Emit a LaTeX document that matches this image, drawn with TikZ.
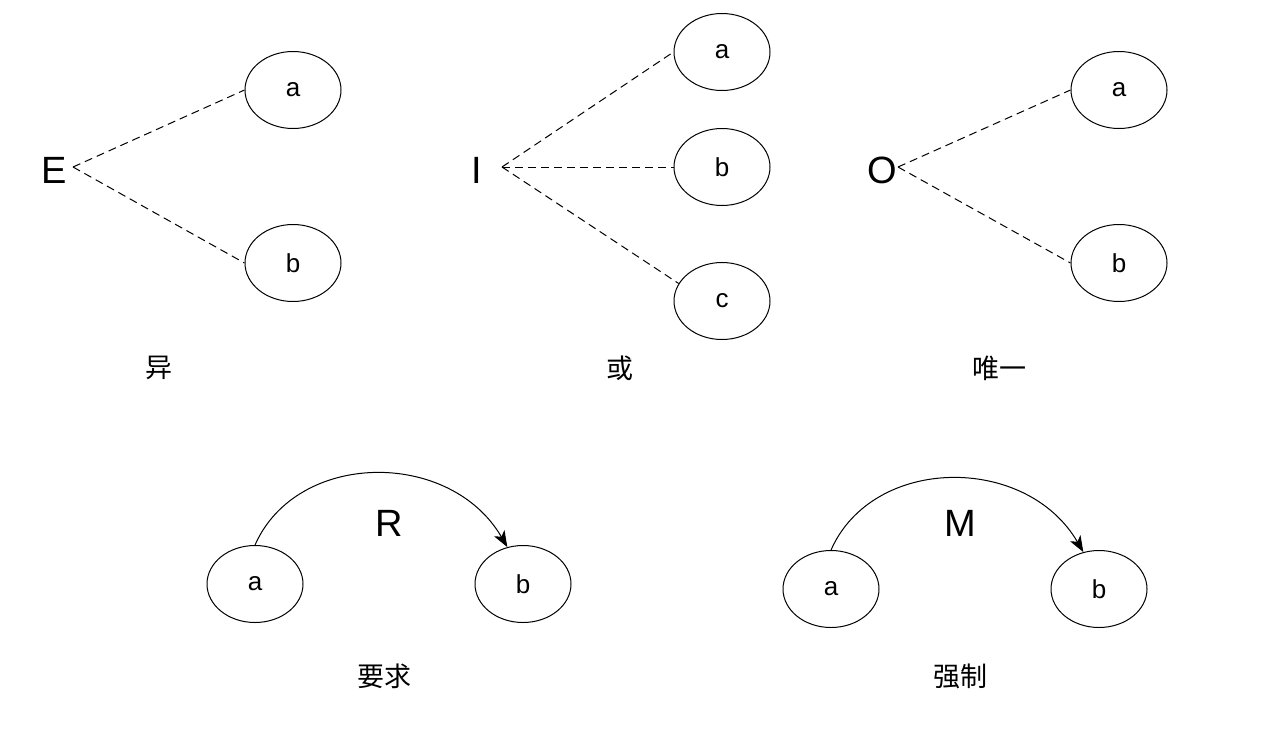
\documentclass[tikz,border=0pt]{standalone}
\usepackage{fontspec}
\setmainfont{Liberation Sans}
\newfontfamily\cjk{Noto Sans CJK SC}
\usetikzlibrary{shapes.geometric,arrows.meta}

\begin{document}
\begin{tikzpicture}[x=1pt, y=-1pt, line width=1pt,
  every node/.style={font=\fontsize{26}{30}\selectfont},
  elli/.style={draw, ellipse, minimum width=96pt, minimum height=77pt, inner sep=0pt},
  big/.style={font=\fontsize{38}{42}\selectfont},
  lbl/.style={font=\cjk\fontsize{27}{31}\selectfont},
  dline/.style={dash pattern=on 8pt off 5pt},
  req/.style={-{Stealth[length=16pt,width=12pt,inset=4pt]}}]
\useasboundingbox (0,0) rectangle (1263,729);
% E
\node[big] (E) at (54,170) {E};
\coordinate (eo) at (73,167);
\node[elli] (ea) at (293,90) {a};
\node[elli] (eb) at (293,263) {b};
\foreach \t in {ea.west,eb.west}
	\draw[dline] (eo) -- (\t);
\node[lbl] (eL) at (159,368) {异};
% I
\node[big] (I) at (477,170) {I};
\coordinate (io) at (502,167);
\node[elli] (ia) at (722,52) {a};
\node[elli] (ib) at (722,167) {b};
\node[elli] (ic) at (722,301) {c};
\foreach \t in {ia.west,ib.west,ic.158}
	\draw[dline] (io) -- (\t);
\node[lbl] (iL) at (620,368) {或};
% O
\node[big] (O) at (882,170) {O};
\coordinate (oo) at (898,167);
\node[elli] (oa) at (1119,90) {a};
\node[elli] (ob) at (1119,263) {b};
\foreach \t in {oa.west,ob.west}
	\draw[dline] (oo) -- (\t);
\node[lbl] (oL) at (999,368) {唯一};
% R
\node[elli] (ra) at (255,584) {a};
\node[elli] (rb) at (523,584) {b};
\node[big] (R) at (389,523) {R};
\draw[req] (ra.north) .. controls +(42,-95) and +(-57,-98) .. (rb.113);
\node[lbl] (rL) at (384,676) {要求};
% M
\node[elli] (ma) at (831,589) {a};
\node[elli] (mb) at (1099,589) {b};
\node[big] (M) at (960,523) {M};
\draw[req] (ma.north) .. controls +(42,-95) and +(-57,-98) .. (mb.113);
\node[lbl] (mL) at (960,676) {强制};
\end{tikzpicture}
\end{document}
